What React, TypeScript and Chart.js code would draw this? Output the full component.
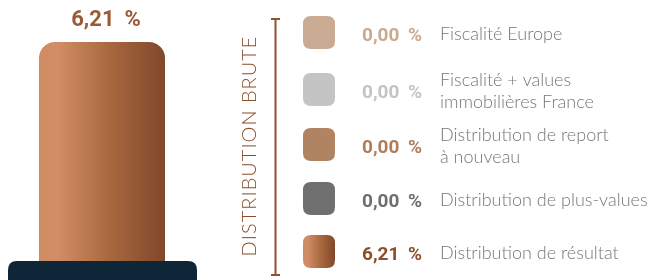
import React, { useEffect, useRef } from "react";
import { Chart, registerables } from "chart.js";

Chart.register(...registerables);

const categories = ["Distribution brute"];
const seriesLabels = [
  "Fiscalité Europe",
  "Fiscalité + values\nimmobilières France",
  "Distribution de report\nà nouveau",
  "Distribution de plus-values",
  "Distribution de résultat",
];
const seriesValues = [0, 0, 0, 0, 6.21];
const swatchColors = ["#c9aa93", "#c5c4c5", "#b08462", "#6f6f6f", "gradient"];
const percentColors = ["#c9a98f", "#c4c4c4", "#b07d5b", "#6e6e6e", "#8c4f2c"];
const axisTitle = "DISTRIBUTION BRUTE";

const fmt = (v: number) => v.toFixed(2).replace(".", ",") + " \u2009%";

function makeGradient(ctx: CanvasRenderingContext2D, x0: number, x1: number) {
  const g = ctx.createLinearGradient(x0, 0, x1, 0);
  g.addColorStop(0, "#cf8b62");
  g.addColorStop(0.15, "#d18d65");
  g.addColorStop(0.55, "#a9693f");
  g.addColorStop(1, "#80472a");
  return g;
}

function roundRect(ctx: CanvasRenderingContext2D, x: number, y: number, w: number, h: number, r: number) {
  ctx.beginPath();
  ctx.moveTo(x + r, y);
  ctx.lineTo(x + w - r, y);
  ctx.quadraticCurveTo(x + w, y, x + w, y + r);
  ctx.lineTo(x + w, y + h - r);
  ctx.quadraticCurveTo(x + w, y + h, x + w - r, y + h);
  ctx.lineTo(x + r, y + h);
  ctx.quadraticCurveTo(x, y + h, x, y + h - r);
  ctx.lineTo(x, y + r);
  ctx.quadraticCurveTo(x, y, x + r, y);
  ctx.closePath();
}

const decorPlugin = {
  id: "decor",
  afterDatasetsDraw(chart: any) {
    const ctx: CanvasRenderingContext2D = chart.ctx;
    const total = seriesValues.reduce((a, b) => a + b, 0);
    const yScale = chart.scales.y;
    const xScale = chart.scales.x;
    const cx = xScale.getPixelForValue(0);
    const topY = yScale.getPixelForValue(total);
    const baseY = yScale.getPixelForValue(0);

    ctx.save();
    // base plinth
    ctx.fillStyle = "#0f2638";
    roundRect(ctx, 8, baseY - 1, 189, 32, 9);
    ctx.fill();

    // total label
    ctx.fillStyle = "#9b5a36";
    ctx.font = "bold 22px Roboto";
    ctx.textAlign = "center";
    ctx.textBaseline = "alphabetic";
    ctx.fillText(fmt(total), cx + 4, topY - 16);

    // vertical axis title
    ctx.save();
    ctx.translate(256, 146);
    ctx.rotate(-Math.PI / 2);
    ctx.fillStyle = "#8a4e2b";
    ctx.font = "300 20px Lato";
    (ctx as any).letterSpacing = "1px";
    ctx.textAlign = "center";
    ctx.fillText(axisTitle, 0, 0);
    ctx.restore();

    // bracket
    ctx.strokeStyle = "#8f532f";
    ctx.lineWidth = 2;
    ctx.beginPath();
    ctx.moveTo(275.5, 19);
    ctx.lineTo(275.5, 275);
    ctx.moveTo(271, 19);
    ctx.lineTo(280, 19);
    ctx.moveTo(271, 275);
    ctx.lineTo(280, 275);
    ctx.stroke();

    // legend
    const rowCenters = [32, 89, 144, 198, 251];
    seriesLabels.forEach((lab, i) => {
      const c = rowCenters[i];
      ctx.fillStyle = swatchColors[i] === "gradient" ? makeGradient(ctx, 303, 335) : swatchColors[i];
      roundRect(ctx, 303, c - 16, 32, 33, 8);
      ctx.fill();

      ctx.fillStyle = percentColors[i];
      ctx.font = "bold 19px Roboto";
      ctx.textAlign = "left";
      ctx.textBaseline = "alphabetic";
      ctx.fillText(fmt(seriesValues[i]), 362, c + 9);

      ctx.fillStyle = "#767676";
      ctx.font = "300 18px Lato";
      const lines = lab.split("\n");
      if (lines.length === 1) {
        ctx.fillText(lines[0], 440, c + 8);
      } else {
        ctx.fillText(lines[0], 440, c - 3);
        ctx.fillText(lines[1], 440, c + 19);
      }
    });
    ctx.restore();
  },
};

export default function App() {
  const ref = useRef<HTMLCanvasElement>(null);
  useEffect(() => {
    document.body.style.margin = "0";
    const canvas = ref.current!;
    const order = [4, 3, 2, 1, 0];
    const chart = new Chart(canvas, {
      type: "bar",
      data: {
        labels: categories,
        datasets: order.map((i) => ({
          label: seriesLabels[i],
          data: [seriesValues[i]],
          backgroundColor: (context: any) => {
            const a = context.chart.chartArea;
            if (!a) return "#b07048";
            if (swatchColors[i] === "gradient") return makeGradient(context.chart.ctx, a.left, a.right);
            return swatchColors[i];
          },
          borderWidth: 0,
          inflateAmount: 0,
          borderRadius: seriesValues[i] > 0 ? { topLeft: 16, topRight: 16, bottomLeft: 0, bottomRight: 0 } : 0,
          borderSkipped: false,
          barPercentage: 1,
          categoryPercentage: 1,
        })),
      },
      options: {
        animation: false,
        responsive: false,
        layout: { padding: { top: 42, bottom: 18, left: 39, right: 484 } },
        plugins: { legend: { display: false }, tooltip: { enabled: false } },
        scales: {
          x: { display: false, stacked: true },
          y: { display: false, stacked: true, min: 0, max: seriesValues.reduce((a, b) => a + b, 0) },
        },
      },
      plugins: [decorPlugin],
    });
    return () => chart.destroy();
  }, []);
  return (
    <div style={{ width: 649, height: 280 }}>
      <canvas ref={ref} width={649} height={280} />
    </div>
  );
}
